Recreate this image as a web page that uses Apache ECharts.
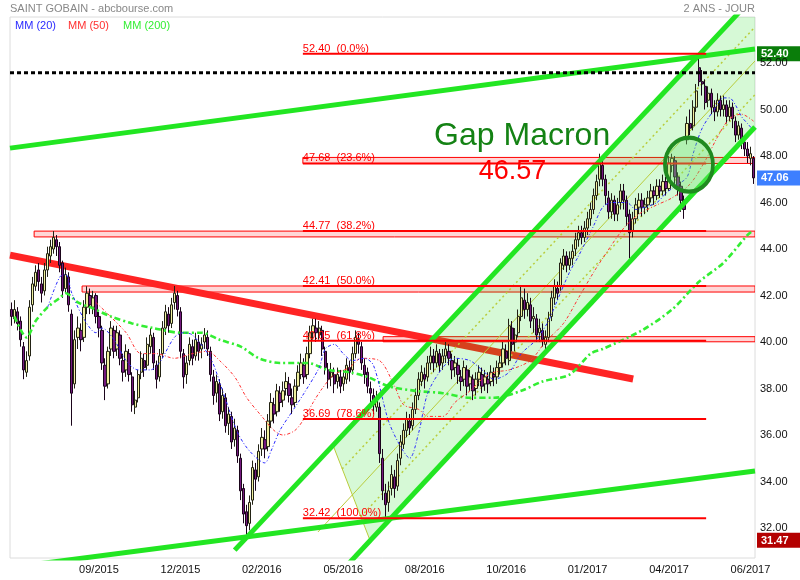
<!DOCTYPE html>
<html><head><meta charset="utf-8">
<script src="https://cdn.jsdelivr.net/npm/echarts@6/dist/echarts.min.js"></script>
<style>html,body{margin:0;padding:0;background:#fff;}#c{width:800px;height:580px;}</style>
</head><body><div id="c"></div>
<script>
// ---- candles: [open, close, low, high] ----
const ohlc = [
[41.4,41.1,40.7,41.7],[41.0,41.4,40.8,41.8],[41.3,40.8,40.5,41.5],[40.9,40.1,39.8,41.1],[39.8,38.8,38.4,40.0],
[38.7,39.2,38.5,39.6],[39.4,41.5,39.2,41.8],[41.6,42.5,41.3,42.8],[42.4,43.0,42.2,43.3],[43.1,42.6,42.2,43.4],
[42.5,42.1,41.7,42.8],[42.2,43.1,42.0,43.4],[43.1,43.8,42.8,44.1],[43.7,44.1,43.4,44.4],[44.0,44.5,43.8,44.77],
[44.4,44.1,43.7,44.6],[44.1,43.3,43.0,44.3],[43.4,42.2,41.9,43.5],[42.3,42.9,42.1,43.2],[42.8,41.6,41.3,43.0],
[41.2,37.8,36.4,41.4],[38.2,40.1,38.0,40.5],[40.2,40.6,39.7,41.1],[40.5,40.1,39.6,40.8],[40.2,41.5,40.0,41.8],
[41.5,42.1,41.2,42.4],[42.0,41.6,41.2,42.3],[41.5,41.9,41.2,42.2],[42.0,41.1,40.8,42.1],[41.1,40.6,40.2,41.3],
[40.5,39.1,38.8,40.7],[39.0,38.1,37.5,39.3],[38.2,39.6,38.0,39.8],[39.7,40.6,39.4,40.9],[40.5,39.6,39.3,40.7],
[39.7,40.4,39.4,40.7],[40.3,39.3,39.0,40.5],[39.2,38.7,38.3,39.5],[38.8,39.6,38.5,39.9],[39.5,38.6,38.3,39.7],
[38.5,37.3,37.0,38.7],[37.2,37.5,36.9,37.9],[37.6,38.6,37.4,38.8],[38.7,39.3,38.4,39.6],[39.2,38.9,38.5,39.5],
[39.0,39.9,38.8,40.2],[39.8,40.3,39.5,40.6],[40.2,39.1,38.8,40.4],[39.0,38.4,38.0,39.2],[38.5,39.4,38.3,39.7],
[39.5,40.6,39.3,40.9],[40.6,41.3,40.3,41.6],[41.2,40.7,40.4,41.5],[40.8,41.6,40.6,41.9],[41.7,42.1,41.4,42.41],
[42.0,41.4,41.1,42.2],[41.3,39.6,39.3,41.5],[39.5,38.5,38.0,39.7],[38.6,39.1,38.2,39.4],[39.2,39.9,39.0,40.2],
[39.8,39.3,39.0,40.1],[39.4,40.1,39.2,40.4],[40.0,39.6,39.2,40.3],[39.7,39.9,39.3,40.2],[40.0,40.3,39.7,40.6],
[40.2,39.7,39.4,40.5],[39.6,38.6,38.3,39.8],[38.5,37.7,37.3,38.8],[37.8,38.3,37.4,38.6],[38.2,36.9,36.6,38.4],
[37.0,37.7,36.7,38.0],[37.6,36.4,36.1,37.8],[36.5,36.9,36.0,37.2],[36.8,35.7,35.4,37.0],[35.8,36.3,35.5,36.7],
[36.2,35.1,34.8,36.4],[35.0,33.6,33.2,35.2],[33.7,32.6,32.2,33.9],[32.7,32.1,31.47,33.0],[32.2,33.1,31.9,33.4],
[33.2,34.6,33.0,34.9],[34.5,34.1,33.6,34.8],[34.2,35.3,34.0,35.6],[35.4,35.9,35.1,36.3],[35.8,35.4,35.0,36.2],
[35.5,36.6,35.3,36.9],[36.6,37.4,36.3,37.8],[37.3,36.9,36.5,37.6],[37.0,37.9,36.8,38.2],[37.8,37.4,37.0,38.1],
[37.5,37.9,37.2,38.3],[38.0,38.3,37.7,38.7],[38.2,37.7,37.4,38.5],[37.6,37.3,36.9,38.0],[37.4,38.1,37.2,38.4],
[38.1,38.7,37.9,39.0],[38.6,39.1,38.4,39.5],[39.0,38.5,38.2,39.3],[38.6,39.5,38.4,39.8],[39.5,40.4,39.3,40.7],
[40.4,40.7,40.1,41.0],[40.6,40.4,40.0,41.0],[40.3,40.6,40.1,40.9],[40.5,39.7,39.4,40.7],[39.6,38.9,38.6,39.8],
[38.8,38.4,38.0,39.1],[38.5,38.7,38.1,39.1],[38.6,38.2,37.8,38.9],[38.3,38.6,38.0,38.9],[38.5,38.1,37.8,38.8],
[38.2,38.5,37.9,38.8],[38.4,39.0,38.2,39.3],[38.9,38.7,38.3,39.2],[38.8,39.5,38.6,39.8],[39.5,40.2,39.3,40.5],
[40.1,39.9,39.5,40.4],[39.8,39.1,38.8,40.0],[39.0,38.6,38.2,39.3],[38.7,38.1,37.8,38.9],[38.0,37.8,37.4,38.3],
[37.7,37.3,36.9,38.0],[37.2,37.6,37.0,37.9],[37.2,35.2,34.8,37.4],[35.0,33.6,33.2,35.4],[33.5,33.0,32.42,33.9],
[33.1,33.6,32.7,34.0],[33.7,34.3,33.4,34.7],[34.2,33.7,33.3,34.5],[33.8,34.9,33.6,35.2],[35.0,35.7,34.7,36.0],
[35.6,36.2,35.4,36.5],[36.2,36.7,35.9,37.0],[36.6,36.3,36.0,36.9],[36.4,37.1,36.2,37.4],[37.1,37.7,36.9,38.0],
[37.7,38.4,37.5,38.7],[38.3,38.7,38.1,39.0],[38.6,38.4,38.0,38.9],[38.5,39.1,38.3,39.4],[39.1,39.4,38.8,39.8],
[39.4,39.1,38.7,39.7],[39.1,39.6,38.9,39.9],[39.5,39.0,38.7,39.7],[39.1,39.4,38.8,39.7],[39.4,39.7,39.1,40.0],
[39.6,39.3,39.0,39.9],[39.2,38.8,38.4,39.5],[38.9,39.1,38.5,39.4],[39.0,38.6,38.2,39.3],[38.5,38.3,37.9,38.8],
[38.4,38.9,38.1,39.2],[38.8,38.1,37.7,39.0],[38.2,38.5,37.9,38.8],[38.4,37.9,37.5,38.6],[38.0,38.4,37.7,38.7],
[38.4,38.7,38.1,39.0],[38.6,38.1,37.8,38.9],[38.2,38.5,37.9,38.8],[38.4,38.2,37.8,38.7],[38.3,38.7,38.1,39.0],
[38.6,38.5,38.1,38.9],[38.5,38.9,38.2,39.2],[38.9,39.1,38.6,39.4],[39.1,39.7,38.9,40.0],[39.6,39.3,39.0,39.9],
[39.2,40.7,39.0,41.0],[40.6,39.9,39.6,40.9],[40.0,40.3,39.6,40.6],[40.4,41.1,40.2,41.4],[41.1,41.9,40.9,42.41],
[41.8,41.4,41.0,42.3],[41.4,41.7,41.1,42.1],[41.6,40.9,40.6,41.9],[41.0,41.1,40.4,41.5],[41.0,40.3,40.0,41.2],
[40.4,40.6,40.0,41.0],[40.5,40.1,39.8,40.8],[39.9,40.2,39.6,40.5],[40.2,41.0,40.0,41.3],[41.1,41.9,40.9,42.2],
[41.9,42.4,41.6,42.7],[42.3,42.1,41.8,42.6],[42.4,43.4,42.2,43.6],[43.3,43.7,43.1,44.0],[43.7,43.3,43.0,43.9],
[43.3,43.6,43.1,43.9],[43.6,43.9,43.3,44.2],[44.0,44.4,43.7,44.7],[44.4,44.7,44.1,45.0],[44.7,44.5,44.2,45.0],
[44.5,44.9,44.3,45.2],[44.9,45.3,44.6,45.6],[45.3,45.7,45.0,46.0],[45.7,46.3,45.5,46.6],[46.3,46.9,46.1,47.2],
[47.0,47.7,46.7,48.1],[47.6,47.0,46.7,47.9],[47.0,46.3,45.9,47.2],[46.2,45.6,45.3,46.5],[45.6,46.1,45.3,46.4],
[46.1,45.5,45.2,46.3],[45.5,45.9,45.2,46.2],[46.0,46.5,45.7,46.8],[46.5,46.1,45.7,46.8],[46.1,45.4,45.0,46.3],
[45.5,44.7,43.6,45.7],[44.8,45.3,44.5,45.6],[45.3,45.9,45.1,46.2],[45.8,46.1,45.5,46.4],[46.1,45.8,45.4,46.4],
[45.8,45.9,45.5,46.2],[45.9,46.2,45.6,46.5],[46.2,46.5,46.0,46.8],[46.5,46.3,45.9,46.7],[46.3,46.7,46.1,47.0],
[46.7,46.5,46.2,47.0],[46.5,46.9,46.3,47.2],[46.9,46.6,46.3,47.1],[46.6,47.7,46.5,48.0],[47.6,47.9,47.3,48.1],
[47.8,47.1,46.8,48.0],[47.1,46.7,46.3,47.3],[46.7,46.1,45.6,46.9],[46.1,45.7,45.3,46.3],[48.7,49.4,48.5,49.7],
[49.4,49.2,48.9,50.0],[49.3,50.1,49.1,50.4],[50.1,50.8,49.9,51.1],[51.8,51.2,51.0,52.40],[51.2,51.1,50.6,51.7],
[51.0,50.3,50.0,51.3],[50.4,50.7,50.1,51.0],[50.7,50.1,49.8,50.9],[50.1,49.9,49.5,50.4],[49.9,50.4,49.7,50.7],
[50.4,50.0,49.7,50.6],[50.0,50.2,49.7,50.6],[50.2,49.7,49.4,50.4],[49.7,50.1,49.5,50.4],[50.1,49.6,49.2,50.3],
[49.5,48.9,48.6,49.7],[48.9,49.3,48.7,49.5],[49.2,48.6,48.3,49.4],[48.6,48.3,48.0,48.8],[48.3,48.0,47.7,48.6],
[47.9,48.1,47.6,48.4],[47.9,47.06,46.8,48.0]
];

// ---- moving averages: [candle index, value] ----
const ma20 = [[12,41.5],[16,42.8],[18,42.9],[20,42.1],[24,41.0],[28,40.4],[30,40.6],[34,40.1],[38,39.2],[42,38.8],[46,38.8],[49,39.1],[54,40.2],[57,40.4],[60,40.3],[66,39.3],[70,37.9],[75,36.1],[79,35.3],[84,34.8],[86,35.3],[89,36.2],[93,37.0],[97,37.8],[102,38.9],[104,39.7],[107,39.9],[110,39.5],[113,39.2],[117,39.3],[120,39.0],[125,36.6],[129,35.5],[132,35.0],[135,36.1],[138,37.8],[143,38.9],[147,39.3],[152,39.2],[156,38.8],[160,38.4],[165,38.7],[169,39.5],[174,40.1],[178,40.9],[180,41.5],[185,43.0],[188,43.7],[193,45.0],[196,45.8],[199,46.0],[204,46.0],[207,45.7],[210,45.8],[214,46.0],[217,46.4],[220,46.7],[224,47.1],[226,48.1],[229,49.2],[233,50.0],[236,50.5],[238,50.5],[240,50.2],[242,49.7],[244,49.4],[246,49.1]];
const ma50 = [[28,41.7],[32,41.2],[38,40.4],[43,39.5],[48,39.5],[54,39.3],[60,39.5],[65,39.6],[69,39.2],[74,38.5],[78,37.6],[83,36.8],[87,36.2],[90,36.0],[94,36.2],[97,36.7],[100,37.4],[103,38.0],[107,38.6],[112,38.9],[116,39.3],[122,39.2],[127,38.1],[130,37.3],[135,37.1],[138,36.8],[143,36.8],[147,37.4],[152,37.9],[156,38.4],[160,38.7],[165,38.8],[172,39.2],[177,40.0],[183,40.8],[188,41.9],[193,43.0],[196,43.6],[203,44.9],[208,45.5],[214,45.9],[219,46.2],[225,46.8],[230,47.8],[234,48.8],[238,49.6],[242,49.8],[246,49.5]];
const ma200 = [[1,41.1],[5,40.2],[8,40.9],[12,41.5],[16,41.9],[18,42.1],[22,41.7],[26,41.5],[33,41.1],[40,40.8],[47,40.6],[56,40.4],[63,40.4],[69,40.1],[76,39.8],[82,39.3],[89,39.1],[98,39.1],[105,38.8],[112,38.7],[118,38.5],[125,38.1],[134,37.9],[143,37.8],[152,37.6],[160,37.6],[169,37.9],[176,38.3],[185,38.6],[192,39.5],[196,39.7],[209,40.5],[219,41.4],[228,42.6],[236,43.4],[244,44.6],[246,44.8]];

// ---- axis ticks ----
const yTicks = [32,34,36,38,40,42,44,46,48,50,52];
const tickLabels = ['09/2015','12/2015','02/2016','05/2016','08/2016','10/2016','01/2017','04/2017','06/2017'];
const tickAt = [29,56,83,110,137,164,191,218,245];

// ---- Fibonacci retracement ----
const fibLevels = [52.40,47.68,44.77,42.41,40.05,36.69,32.42];
const fibPct = ['0.0%','23.6%','38.2%','50.0%','61.8%','78.6%','100.0%'];
const fibFrom = 96.6, fibTo = 230.3;

// ---- gap zones: [from, to, low, high] ----
const zones = [[96.6,246.5,47.68,47.94],[7.5,246.5,44.52,44.77],[23.4,246.5,42.15,42.41],[123.2,246.5,40.01,40.23]];

// ---- drawn trend lines (index, price) ----
const greenLines = [
  [[-0.5,48.34],[246.5,52.6]],
  [[-0.5,30.30],[246.5,34.45]],
  [[74.0,31.05],[246.5,54.91]],
  [[108.0,29.94],[246.5,49.25]]
];
const redTrend = [[-0.5,43.74],[206.1,38.41]];
const dottedLevel = 51.58;
const channelFill = [[106.6,35.56],[118.9,31.46],[318.9,59.26],[306.6,63.36]];
const channelMid = [[101.6,31.83],[246.5,52.09]];
const channelQuarters = [[[109.6,34.54],[246.5,53.55]],[[115.8,32.49],[246.5,50.64]]];
const tagHigh = 52.40, tagLast = 47.06, tagLow = 31.47;

const FONT = '"Liberation Sans", Arial, sans-serif';
const chart = echarts.init(document.getElementById('c'));
const cats = ohlc.map((d,i)=>'c'+i);
const N = ohlc.length;

function ln(data, color, width, type, z){
  return {type:'line', xAxisIndex:1, yAxisIndex:0, data, symbol:'none', silent:true,
    lineStyle:{color, width, type}, z, clip:true};
}

const series = [];
series.push({type:'custom', xAxisIndex:1, yAxisIndex:0, z:1, clip:true, silent:true, data:zones,
  renderItem:(p,api)=>{const a=api.coord([api.value(0),api.value(3)]);const b=api.coord([api.value(1),api.value(2)]);
    return {type:'rect',shape:{x:a[0],y:a[1],width:b[0]-a[0],height:b[1]-a[1]},style:{fill:'#ffd6d6',stroke:'#ff0000',lineWidth:1}};}});
series.push(ln(redTrend,'#ff2424',7,'solid',2));
series.push({type:'custom', xAxisIndex:1, yAxisIndex:0, z:3, clip:true, silent:true, data:[[0]],
  renderItem:(p,api)=>({type:'polygon',shape:{points:channelFill.map(q=>api.coord(q))},style:{fill:'rgba(0,215,0,0.16)',stroke:'#b9cc3c',lineWidth:1}})});
series.push(ln(channelMid,'#b9cc3c',1,'solid',3));
channelQuarters.forEach(q=>series.push(ln(q,'#b9cc3c',1.5,[2,3],3)));
series.push({type:'candlestick', xAxisIndex:0, yAxisIndex:0, data:ohlc, z:4, barWidth:2.8, silent:true,
  itemStyle:{color:'#f0f0a0', color0:'#74197e', borderColor:'#222214', borderColor0:'#1a041a', borderWidth:1}});
series.push(Object.assign(ln(ma200,'#33ee33',2.6,[6,3,2,3],5),{smooth:0.3}));
series.push(Object.assign(ln(ma50,'#ff3030',1,[3,2,1,2],5),{smooth:0.3}));
series.push(Object.assign(ln(ma20,'#2a2aff',1,[3,2,1,2],5),{smooth:0.3}));
greenLines.forEach(g=>series.push(ln(g,'#22e622',5,'solid',6)));
fibLevels.forEach(v=>series.push(ln([[fibFrom,v],[fibTo,v]],'#ff0000',2,'solid',6)));
series.push(ln([[-0.5,dottedLevel],[246.5,dottedLevel]],'#000000',3,[4,3],6));
series.push({type:'scatter', xAxisIndex:1, yAxisIndex:0, z:7, silent:true, symbolSize:0, itemStyle:{opacity:1},
  data:fibLevels.map((v,i)=>({value:[fibFrom,v], label:{formatter:v.toFixed(2)+'  ('+fibPct[i]+')'}})),
  label:{show:true, position:[0,0], align:'left', verticalAlign:'bottom', offset:[0,1], color:'#ff0000', fontSize:11, fontFamily:FONT, lineHeight:12, opacity:1}});
series.push({type:'scatter', xAxisIndex:1, yAxisIndex:0, z:7, silent:true, data:[[224.6,47.63]], symbolSize:[48,54],
  itemStyle:{opacity:1, color:'rgba(110,225,110,0.35)', borderColor:'#1f8a1f', borderWidth:4}});
series.push({type:'scatter', xAxisIndex:1, yAxisIndex:0, z:8, silent:true, symbolSize:0, itemStyle:{opacity:1},
  data:[{value:[169.3,48.86], label:{formatter:'Gap Macron', color:'#148214', fontSize:32}},
        {value:[166.1,47.33], label:{formatter:'46.57', color:'#ff0000', fontSize:27}}],
  label:{show:true, position:'inside', fontFamily:FONT, opacity:1}});

chart.setOption({
  animation:false,
  backgroundColor:'#ffffff',
  grid:{left:10, top:17, width:745, height:541, show:true, borderColor:'#dcdcdc', borderWidth:1, backgroundColor:'transparent'},
  xAxis:[
    {type:'category', data:cats, boundaryGap:true, axisLine:{show:false}, axisTick:{show:false}, splitLine:{show:false},
     axisLabel:{interval:(i)=>tickAt.indexOf(i)>=0, formatter:(v,i)=>{const k=tickAt.indexOf(i);return k>=0?tickLabels[k]:'';},
       color:'#111', fontSize:11, fontFamily:FONT, margin:6}},
    {type:'value', min:-0.5, max:N-0.5, show:false}
  ],
  yAxis:[{type:'value', position:'right', min:30.71, max:53.98, splitLine:{show:false}, axisLine:{show:false}, axisTick:{show:false},
    axisLabel:{customValues:yTicks, formatter:(v)=>v.toFixed(2), color:'#111', fontSize:11, fontFamily:FONT, margin:5, padding:[0,0,4,0]}}],
  series
});

const gfx = [
  {type:'text', left:10, top:3, style:{text:'SAINT GOBAIN - abcbourse.com', fill:'#888', fontSize:11, fontFamily:FONT}},
  {type:'text', right:45, top:3, style:{text:'2 ANS - JOUR', fill:'#888', fontSize:11, fontFamily:FONT}},
  {type:'text', left:15, top:20, style:{text:'MM (20)', fill:'#2a2aff', fontSize:11, fontFamily:FONT}},
  {type:'text', left:68, top:20, style:{text:'MM (50)', fill:'#ff3030', fontSize:11, fontFamily:FONT}},
  {type:'text', left:123, top:20, style:{text:'MM (200)', fill:'#33ee33', fontSize:11, fontFamily:FONT}}
];
[[tagHigh,'#0a7d0a'],[tagLast,'#3d7fff'],[tagLow,'#b40000']].forEach(([v,col])=>{
  const y = chart.convertToPixel({yAxisIndex:0}, v);
  gfx.push({type:'group', x:757, y:y-7.5, z:100, children:[
    {type:'rect', shape:{x:0,y:0,width:43,height:15}, style:{fill:col}},
    {type:'text', x:4, y:8, style:{text:v.toFixed(2), fill:'#fff', fontSize:11, fontWeight:'bold', fontFamily:FONT, verticalAlign:'middle'}}
  ]});
});
chart.setOption({graphic:gfx});
</script></body></html>
